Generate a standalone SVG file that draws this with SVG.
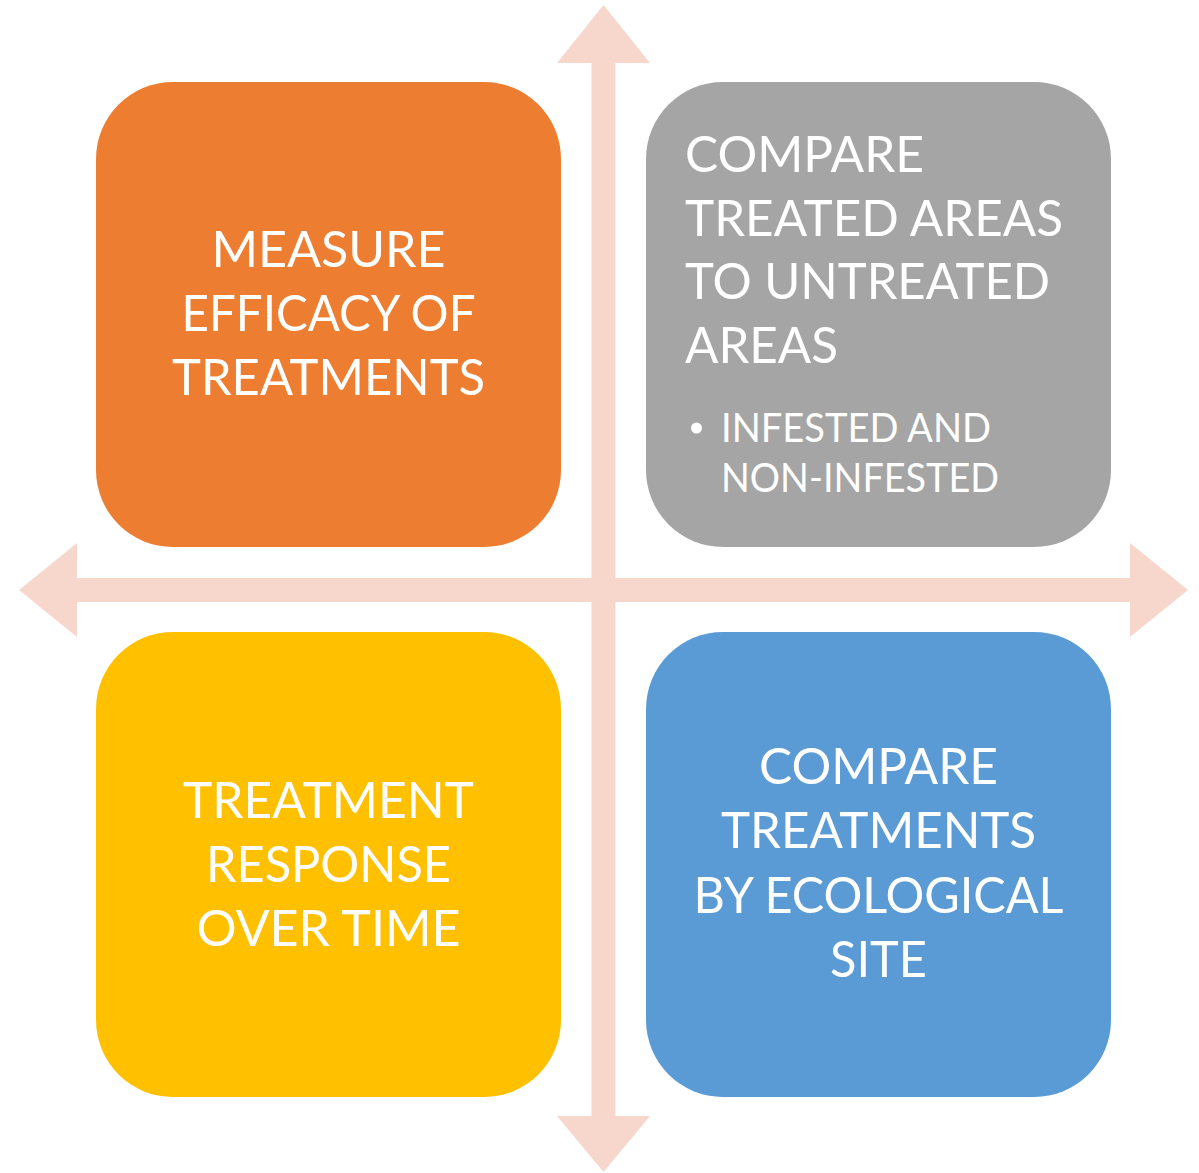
<svg xmlns="http://www.w3.org/2000/svg" width="1199" height="1173" viewBox="0 0 1199 1173">
  <style>
    .box { stroke: none; }
    .t { font-family: Lato, "Open Sans", "Liberation Sans", sans-serif; font-size: 51px; fill: #FFFFFF; }
    .c { text-anchor: middle; }
    .s { font-size: 40px; }
    .arrow { fill: #F7D7CC; }
  </style>
  <rect width="1199" height="1173" fill="#FFFFFF"/>
  <g id="connectors">
    <polygon class="arrow" points="603.5,5 650,63 615.5,63 615.5,1116 650,1116 603.5,1172 557,1116 591.5,1116 591.5,63 557,63"/>
    <polygon class="arrow" points="19,590 77,543 77,578 1130,578 1130,543 1188,590 1130,637 1130,602 77,602 77,637"/>
  </g>
  <g id="node-measure">
    <rect class="box" x="96" y="82" width="465" height="465" rx="77" fill="#ED7D31"/>
    <text class="t c" x="328.5" y="267" textLength="234" lengthAdjust="spacingAndGlyphs">MEASURE</text>
    <text class="t c" x="328.5" y="331" textLength="294" lengthAdjust="spacingAndGlyphs">EFFICACY OF</text>
    <text class="t c" x="328.5" y="395" textLength="313" lengthAdjust="spacingAndGlyphs">TREATMENTS</text>
  </g>
  <g id="node-compare-areas">
    <rect class="box" x="646" y="82" width="465" height="465" rx="77" fill="#A5A5A5"/>
    <text class="t" x="685" y="172" textLength="239" lengthAdjust="spacingAndGlyphs">COMPARE</text>
    <text class="t" x="685" y="235.5" textLength="378" lengthAdjust="spacingAndGlyphs">TREATED AREAS</text>
    <text class="t" x="685" y="299" textLength="365" lengthAdjust="spacingAndGlyphs">TO UNTREATED</text>
    <text class="t" x="685" y="362.5" textLength="153" lengthAdjust="spacingAndGlyphs">AREAS</text>
    <circle cx="696.5" cy="428" r="5.5" fill="#FFFFFF"/>
    <text class="t s" x="721" y="442" textLength="270" lengthAdjust="spacingAndGlyphs">INFESTED AND</text>
    <text class="t s" x="721" y="492" textLength="278" lengthAdjust="spacingAndGlyphs">NON-INFESTED</text>
  </g>
  <g id="node-response">
    <rect class="box" x="96" y="632" width="465" height="465" rx="77" fill="#FFC000"/>
    <text class="t c" x="328.5" y="818" textLength="291" lengthAdjust="spacingAndGlyphs">TREATMENT</text>
    <text class="t c" x="328.5" y="882" textLength="245" lengthAdjust="spacingAndGlyphs">RESPONSE</text>
    <text class="t c" x="328.5" y="946" textLength="264" lengthAdjust="spacingAndGlyphs">OVER TIME</text>
  </g>
  <g id="node-ecological">
    <rect class="box" x="646" y="632" width="465" height="465" rx="77" fill="#5B9BD5"/>
    <text class="t c" x="878.5" y="783.5" textLength="239" lengthAdjust="spacingAndGlyphs">COMPARE</text>
    <text class="t c" x="878.5" y="848" textLength="315" lengthAdjust="spacingAndGlyphs">TREATMENTS</text>
    <text class="t c" x="878.5" y="912.5" textLength="370" lengthAdjust="spacingAndGlyphs">BY ECOLOGICAL</text>
    <text class="t c" x="878.5" y="977" textLength="97" lengthAdjust="spacingAndGlyphs">SITE</text>
  </g>
</svg>
